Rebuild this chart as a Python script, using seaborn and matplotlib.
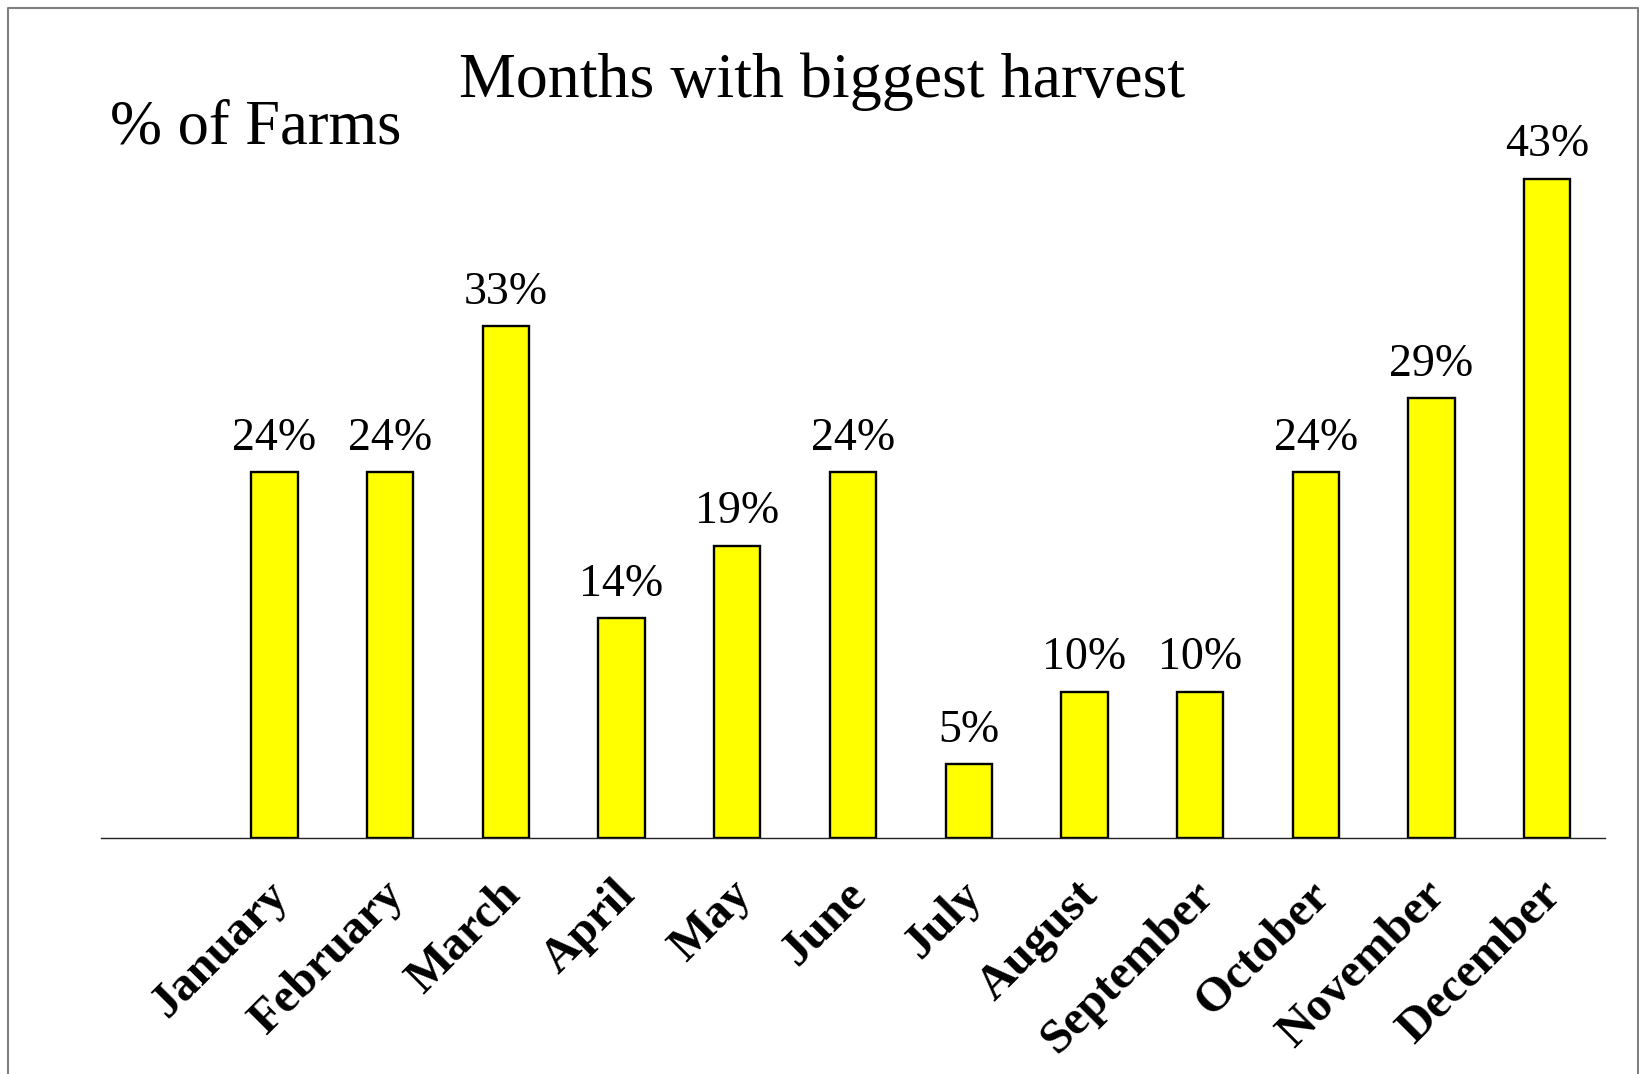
import matplotlib
matplotlib.use("Agg")
import matplotlib.pyplot as plt
import matplotlib.transforms as mtransforms
from matplotlib.lines import Line2D
import seaborn as sns
import pandas as pd

# Share of farms (%) naming each month as their biggest harvest
months = ["January", "February", "March", "April", "May", "June",
          "July", "August", "September", "October", "November", "December"]
share_pct = [23.8, 23.8, 33.3, 14.3, 19.0, 23.8, 4.8, 9.5, 9.5, 23.8, 28.6, 42.9]
value_labels = [f"{v:.0f}%" for v in share_pct]

title_text = "Months with biggest harvest"
unit_text = "% of Farms"

sns.set_theme(style="white")
plt.rcParams["font.family"] = ["Liberation Serif", "DejaVu Serif"]
plt.rcParams["text.color"] = "black"
plt.rcParams["xtick.color"] = "black"
plt.rcParams["xtick.labelcolor"] = "black"
plt.rcParams["axes.labelcolor"] = "black"

W, H = 1640, 1074
fig = plt.figure(figsize=(W / 100, H / 100), dpi=100)
fig.patch.set_facecolor("white")

# plot area: baseline at y=838 px, x range 101..1605 px
ax = fig.add_axes([101 / W, 1 - 838 / H, (1605 - 101) / W, (838 - 69.4) / H])

df = pd.DataFrame({"month": months, "share": share_pct})
sns.barplot(data=df, x="month", y="share", order=months, color="#FFFF00",
            saturation=1, width=0.4, edgecolor="black", linewidth=1.7, ax=ax)

ax.set_xlim(-1.5, 11.5)
ax.set_ylim(0, 50)
ax.set_xlabel("")
ax.set_ylabel("")
ax.set_yticks([])
for side in ("left", "top", "right"):
    ax.spines[side].set_visible(False)
ax.spines["bottom"].set_color("#222222")
ax.spines["bottom"].set_linewidth(1.0)

ax.bar_label(ax.containers[0], labels=value_labels, padding=9, fontsize=33,
             color="black")

# rotated bold month names
ax.tick_params(axis="x", length=0, pad=36, labelcolor="black")
ax.set_xticks(range(len(months)))
ax.set_xticklabels(months)
shift = mtransforms.ScaledTranslation(7 / 100, 0, fig.dpi_scale_trans)
for lbl in ax.get_xticklabels():
    lbl.set_rotation(45)
    lbl.set_ha("right")
    lbl.set_va("center")
    lbl.set_rotation_mode("anchor")
    lbl.set_fontweight("bold")
    lbl.set_fontsize(35)
    lbl.set_color("black")
    lbl.set_transform(lbl.get_transform() + shift)

fig.text(822 / W, 1 - 97 / H, title_text, ha="center", va="baseline",
         fontsize=46, color="black")
fig.text(110 / W, 1 - 144 / H, unit_text, ha="left", va="baseline",
         fontsize=45, color="black")

# frame around the slide (open at the bottom)
fig.add_artist(Line2D([8 / W, 8 / W, 1638 / W, 1638 / W], [0, 1 - 8 / H, 1 - 8 / H, 0],
                      transform=fig.transFigure, color="#808080", lw=1.5))

fig.savefig("out.png", dpi=100)
